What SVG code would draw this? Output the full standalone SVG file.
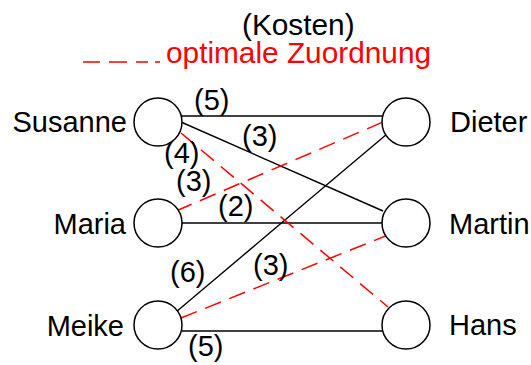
<svg xmlns="http://www.w3.org/2000/svg" width="531" height="365" viewBox="0 0 531 365">
  <style>
    text { font-family: "Liberation Sans", Arial, sans-serif; font-size: 29px; fill: #000; }
    .legend-text { font-size: 29.8px; }
    .red { fill: #ff0000; }
    .edge { stroke: #000; stroke-width: 1.4; fill: none; }
    .opt { stroke: #ff0000; stroke-width: 1.5; stroke-dasharray: 17 9; fill: none; }
    .key { stroke: #ff0000; stroke-width: 1.5; fill: none; }
    .node circle { fill: #fff; stroke: #000; stroke-width: 1.5; }
  </style>
  <rect width="531" height="365" fill="#fff"/>

  <!-- legend -->
  <g id="legend">
    <text class="legend-text" x="242" y="35">(Kosten)</text>
    <path class="key" d="M83 62H100M109 62H127M136 62H148M155 62H160"/>
    <text class="legend-text red" x="166" y="63">optimale Zuordnung</text>
  </g>

  <!-- connectors -->
  <g id="connectors">
    <line class="edge" x1="181" y1="116" x2="383" y2="116"/>
    <line class="edge" x1="181" y1="122" x2="383" y2="211"/>
    <line class="edge" x1="387" y1="134" x2="176" y2="312"/>
    <line class="edge" x1="182" y1="223" x2="383" y2="223"/>
    <line class="edge" x1="182" y1="331" x2="383" y2="331"/>
    <line class="opt" x1="181" y1="133" x2="388" y2="307"/>
    <line class="opt" x1="176" y1="211" x2="383" y2="122"/>
    <line class="opt" x1="181" y1="318" x2="388" y2="235"/>
  </g>

  <!-- cost labels -->
  <g id="costs">
    <text x="194" y="110">(5)</text>
    <text x="242" y="146">(3)</text>
    <text x="164" y="163">(4)</text>
    <text x="176" y="191">(3)</text>
    <text x="218" y="216">(2)</text>
    <text x="170" y="282">(6)</text>
    <text x="253" y="275">(3)</text>
    <text x="188" y="356">(5)</text>
  </g>

  <!-- left nodes -->
  <g id="susanne" class="node">
    <circle cx="158" cy="122" r="24"/>
    <text x="127" y="132" text-anchor="end">Susanne</text>
  </g>
  <g id="maria" class="node">
    <circle cx="158" cy="223" r="24"/>
    <text x="126" y="234" text-anchor="end">Maria</text>
  </g>
  <g id="meike" class="node">
    <circle cx="158" cy="325" r="24"/>
    <text x="124" y="336" text-anchor="end">Meike</text>
  </g>

  <!-- right nodes -->
  <g id="dieter" class="node">
    <circle cx="406" cy="122" r="24"/>
    <text x="450" y="132">Dieter</text>
  </g>
  <g id="martin" class="node">
    <circle cx="406" cy="223" r="24"/>
    <text x="449" y="234">Martin</text>
  </g>
  <g id="hans" class="node">
    <circle cx="406" cy="325" r="24"/>
    <text x="449" y="335">Hans</text>
  </g>
</svg>
